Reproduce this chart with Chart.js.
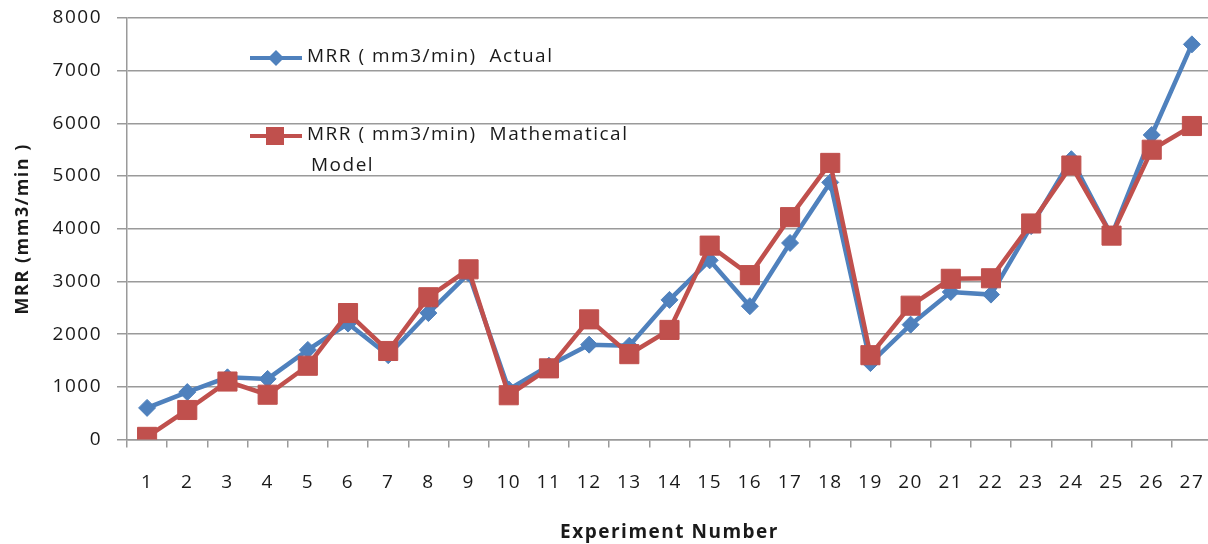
<!DOCTYPE html>
<html>
<head>
<meta charset="utf-8">
<style>
  html, body { margin: 0; padding: 0; background: #ffffff; overflow: hidden; }
  #wrap { position: relative; width: 1212px; height: 544px; }
</style>
<script src="https://cdn.jsdelivr.net/npm/chart.js@4.4.1/dist/chart.umd.min.js"></script>
</head>
<body>
<div id="wrap"><canvas id="chart" width="1212" height="544"></canvas></div>
<script>
// Experiment numbers 1..27
const experiments = ['1','2','3','4','5','6','7','8','9','10','11','12','13','14','15','16','17','18','19','20','21','22','23','24','25','26','27'];

// Material removal rate, measured (mm3/min)
const mrrActual = [600, 900, 1180, 1150, 1700, 2200, 1600, 2400, 3150, 950, 1400, 1800, 1780, 2650, 3400, 2530, 3730, 4880, 1450, 2180, 2800, 2750, 4050, 5320, 3870, 5780, 7500];

// Material removal rate, predicted by the mathematical model (mm3/min)
const mrrModel = [50, 560, 1100, 850, 1400, 2400, 1680, 2700, 3230, 840, 1350, 2280, 1620, 2080, 3680, 3120, 4220, 5250, 1600, 2540, 3050, 3060, 4100, 5200, 3870, 5500, 5950];

const seriesNames = ['MRR ( mm3/min)  Actual', 'MRR ( mm3/min)  Mathematical', 'Model'];
const yTicks = [0, 1000, 2000, 3000, 4000, 5000, 6000, 7000, 8000];

const BLUE = '#4f81bd';
const RED = '#c0504d';
const GRID = '#9a9a9a';
const TEXT = '#1a1a1a';
const FONT = "'Open Sans', 'DejaVu Sans', sans-serif";
const SPACING = '1.5px';

// Slightly open letter spacing for all chart text
const textSpacing = {
  id: 'textSpacing',
  beforeUpdate(chart) { chart.ctx.letterSpacing = SPACING; },
  beforeLayout(chart) { chart.ctx.letterSpacing = SPACING; },
  beforeDraw(chart) { chart.ctx.letterSpacing = SPACING; }
};

// Legend drawn inside the plot area, top-left
const insideLegend = {
  id: 'insideLegend',
  afterDatasetsDraw(chart) {
    const ctx = chart.ctx;
    ctx.save();
    ctx.letterSpacing = SPACING;
    ctx.font = '19px ' + FONT;
    ctx.fillStyle = TEXT;
    ctx.textBaseline = 'middle';
    ctx.lineWidth = 4;

    // actual
    ctx.strokeStyle = BLUE;
    ctx.beginPath(); ctx.moveTo(250, 58); ctx.lineTo(302, 58); ctx.stroke();
    ctx.fillStyle = BLUE;
    ctx.beginPath();
    ctx.moveTo(276, 50); ctx.lineTo(284, 58); ctx.lineTo(276, 66); ctx.lineTo(268, 58);
    ctx.closePath(); ctx.fill();
    ctx.fillStyle = TEXT;
    ctx.fillText(seriesNames[0], 307, 57);

    // model
    ctx.strokeStyle = RED;
    ctx.beginPath(); ctx.moveTo(250, 136); ctx.lineTo(302, 136); ctx.stroke();
    ctx.fillStyle = RED;
    ctx.fillRect(266, 127, 18, 18);
    ctx.fillStyle = TEXT;
    ctx.fillText(seriesNames[1], 307, 135);
    ctx.fillText(seriesNames[2], 311, 166);
    ctx.restore();
  }
};

new Chart(document.getElementById('chart'), {
  type: 'line',
  data: {
    labels: experiments,
    datasets: [
      {
        label: seriesNames[0],
        data: mrrActual,
        borderColor: BLUE,
        backgroundColor: BLUE,
        borderWidth: 4.5,
        pointStyle: 'rectRot',
        pointRadius: 8.5,
        pointBorderWidth: 1,
        tension: 0,
        order: 1
      },
      {
        label: seriesNames[1] + ' ' + seriesNames[2],
        data: mrrModel,
        borderColor: RED,
        backgroundColor: RED,
        borderWidth: 4.5,
        pointStyle: 'rect',
        pointRadius: 13.5,
        pointBorderWidth: 1,
        tension: 0,
        order: 0
      }
    ]
  },
  options: {
    responsive: false,
    animation: false,
    devicePixelRatio: 1,
    layout: { autoPadding: false, padding: { top: 18, right: 0, bottom: 0, left: 0 } },
    plugins: {
      legend: { display: false },
      tooltip: { enabled: false }
    },
    scales: {
      x: {
        type: 'category',
        offset: true,
        grid: {
          display: true,
          offset: true,
          drawOnChartArea: false,
          drawTicks: true,
          tickLength: 8,
          color: GRID,
          lineWidth: 1.5
        },
        border: { display: true, color: GRID, width: 1.5 },
        ticks: {
          color: TEXT,
          font: { family: FONT, size: 19 },
          padding: 24,
          maxRotation: 0,
          autoSkip: false
        },
        title: {
          display: true,
          text: 'Experiment Number',
          color: TEXT,
          font: { family: FONT, size: 19, weight: 'bold' },
          padding: { top: 16, bottom: 0 }
        },
        afterFit(scale) {
          scale.height = 104.5;
          scale.paddingLeft = 0;
          scale.paddingRight = 0;
        }
      },
      y: {
        min: 0,
        max: 8000,
        afterBuildTicks(scale) { scale.ticks = yTicks.map(v => ({ value: v })); },
        grid: {
          color: GRID,
          lineWidth: 1.5,
          drawTicks: true,
          tickLength: 10
        },
        border: { display: true, color: GRID, width: 1.5 },
        ticks: {
          color: TEXT,
          font: { family: FONT, size: 19 },
          padding: 15,
          callback: (v) => String(v)
        },
        title: {
          display: true,
          text: 'MRR (mm3/min )',
          color: TEXT,
          font: { family: FONT, size: 18, weight: 'bold' },
          padding: { top: 12, bottom: 0 }
        },
        afterFit(scale) {
          scale.width = 127;
          scale.paddingTop = 0;
          scale.paddingBottom = 0;
        }
      }
    }
  },
  plugins: [textSpacing, insideLegend]
});
</script>
</body>
</html>
